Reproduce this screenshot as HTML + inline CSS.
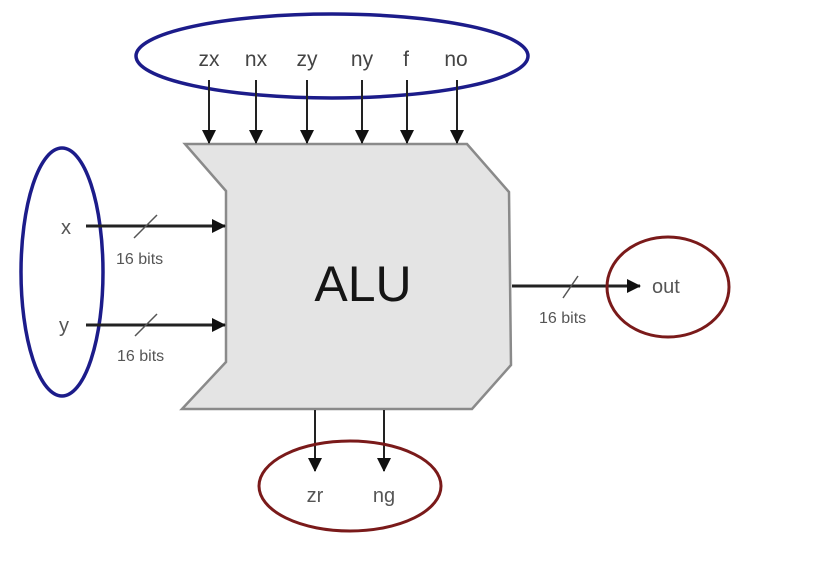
<!DOCTYPE html>
<html><head><meta charset="utf-8"><style>
html,body{margin:0;padding:0;background:#fff;}
svg{display:block;}
text{font-family:"Liberation Sans",Arial,sans-serif;}
</style></head><body>
<svg width="828" height="562" viewBox="0 0 828 562" xmlns="http://www.w3.org/2000/svg">
<defs>
<marker id="ah" markerWidth="10" markerHeight="10" refX="9" refY="5" orient="auto" markerUnits="userSpaceOnUse">
<path d="M0,0 L10,5 L0,10 z" fill="#111"/>
</marker>
<marker id="ahb" markerWidth="14" markerHeight="14" refX="13" refY="7" orient="auto" markerUnits="userSpaceOnUse">
<path d="M0,0 L14,7 L0,14 z" fill="#111"/>
</marker>
</defs>
<!-- ALU body -->
<polygon points="185,144 467,144 509,192 511,365 472,409 182,409 226,362 226,191" fill="#e4e4e4" stroke="#8a8a8a" stroke-width="2.5"/>
<text x="363" y="301" font-size="50" text-anchor="middle" fill="#151515">ALU</text>
<!-- top ellipse -->
<ellipse cx="332" cy="56" rx="196" ry="42" fill="none" stroke="#1c1c8a" stroke-width="3.5"/>
<g font-size="21" fill="#444" text-anchor="middle">
<text x="209" y="66">zx</text><text x="256" y="66">nx</text><text x="307" y="66">zy</text>
<text x="362" y="66">ny</text><text x="406" y="66">f</text><text x="456" y="66">no</text>
</g>
<g stroke="#222" stroke-width="2" marker-end="url(#ahb)">
<line x1="209" y1="80" x2="209" y2="143"/><line x1="256" y1="80" x2="256" y2="143"/>
<line x1="307" y1="80" x2="307" y2="143"/><line x1="362" y1="80" x2="362" y2="143"/>
<line x1="407" y1="80" x2="407" y2="143"/><line x1="457" y1="80" x2="457" y2="143"/>
</g>
<!-- left ellipse -->
<ellipse cx="62" cy="272" rx="41" ry="124" fill="none" stroke="#1c1c8a" stroke-width="3.5"/>
<text x="66" y="234" font-size="20" fill="#555" text-anchor="middle">x</text>
<text x="64" y="332" font-size="20" fill="#555" text-anchor="middle">y</text>
<g stroke="#222" stroke-width="3" marker-end="url(#ahb)">
<line x1="86" y1="226" x2="225" y2="226"/>
<line x1="86" y1="325" x2="225" y2="325"/>
<line x1="512" y1="286" x2="640" y2="286"/>
</g>
<g stroke="#555" stroke-width="1.5">
<line x1="134" y1="238" x2="157" y2="215"/>
<line x1="135" y1="336" x2="157" y2="314"/>
<line x1="563" y1="298" x2="578" y2="276"/>
</g>
<g font-size="16" fill="#555">
<text x="116" y="264">16 bits</text>
<text x="117" y="361">16 bits</text>
<text x="539" y="323">16 bits</text>
</g>
<!-- out ellipse -->
<ellipse cx="668" cy="287" rx="61" ry="50" fill="none" stroke="#7a1a1a" stroke-width="3"/>
<text x="652" y="293" font-size="20" fill="#555">out</text>
<!-- bottom -->
<g stroke="#222" stroke-width="2" marker-end="url(#ahb)">
<line x1="315" y1="410" x2="315" y2="471"/>
<line x1="384" y1="410" x2="384" y2="471"/>
</g>
<ellipse cx="350" cy="486" rx="91" ry="45" fill="none" stroke="#7a1a1a" stroke-width="3"/>
<text x="315" y="502" font-size="20" fill="#555" text-anchor="middle">zr</text>
<text x="384" y="502" font-size="20" fill="#555" text-anchor="middle">ng</text>
</svg>
</body></html>
